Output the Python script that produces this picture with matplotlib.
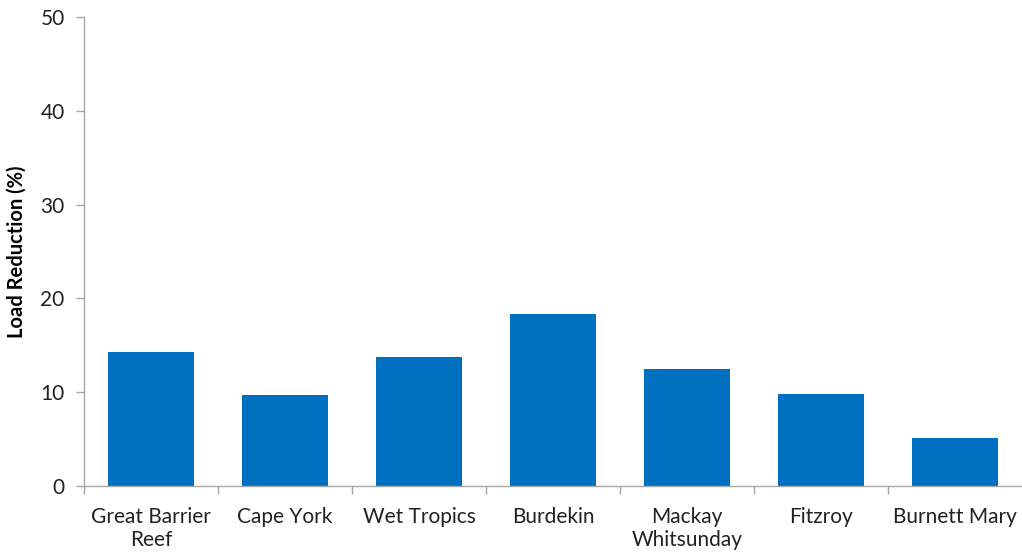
import numpy as np
import matplotlib
matplotlib.use('Agg')
import matplotlib.pyplot as plt

regions = ['Great Barrier\nReef', 'Cape York', 'Wet Tropics', 'Burdekin',
           'Mackay\nWhitsunday', 'Fitzroy', 'Burnett Mary']
load_reduction = [14.3, 9.75, 13.7, 18.35, 12.5, 9.85, 5.15]

plt.rcParams['font.family'] = ['Lato', 'DejaVu Sans']

fig = plt.figure(figsize=(10.22, 5.55), dpi=100)
ax = fig.add_axes([0.0822, 0.1243, 0.918, 0.8451])

x = np.arange(len(regions))
ax.bar(x, load_reduction, width=0.64, color='#0070C0', zorder=2)

ax.set_xlim(-0.5, len(regions) - 0.5)
ax.set_ylim(0, 50)
ax.set_yticks([0, 10, 20, 30, 40, 50])

# category labels centred, tick marks on the boundaries
ax.set_xticks(x)
ax.set_xticklabels(regions, fontsize=15, color='#222222', linespacing=1.2)
ax.tick_params(axis='x', which='major', length=0, pad=15)
ax.set_xticks(np.arange(len(regions)) - 0.5, minor=True)
ax.tick_params(axis='x', which='minor', length=6, color='#a6a6a6', width=1)
ax.tick_params(axis='y', length=6, color='#a6a6a6', width=1, labelsize=15,
               labelcolor='#222222', pad=8)

for side in ['top', 'right']:
    ax.spines[side].set_visible(False)
for side in ['left', 'bottom']:
    ax.spines[side].set_color('#a6a6a6')
    ax.spines[side].set_linewidth(1)

ax.set_ylabel('Load Reduction (%)', fontsize=14.5, fontweight='bold', labelpad=10)

fig.savefig('out.png', dpi=100)
